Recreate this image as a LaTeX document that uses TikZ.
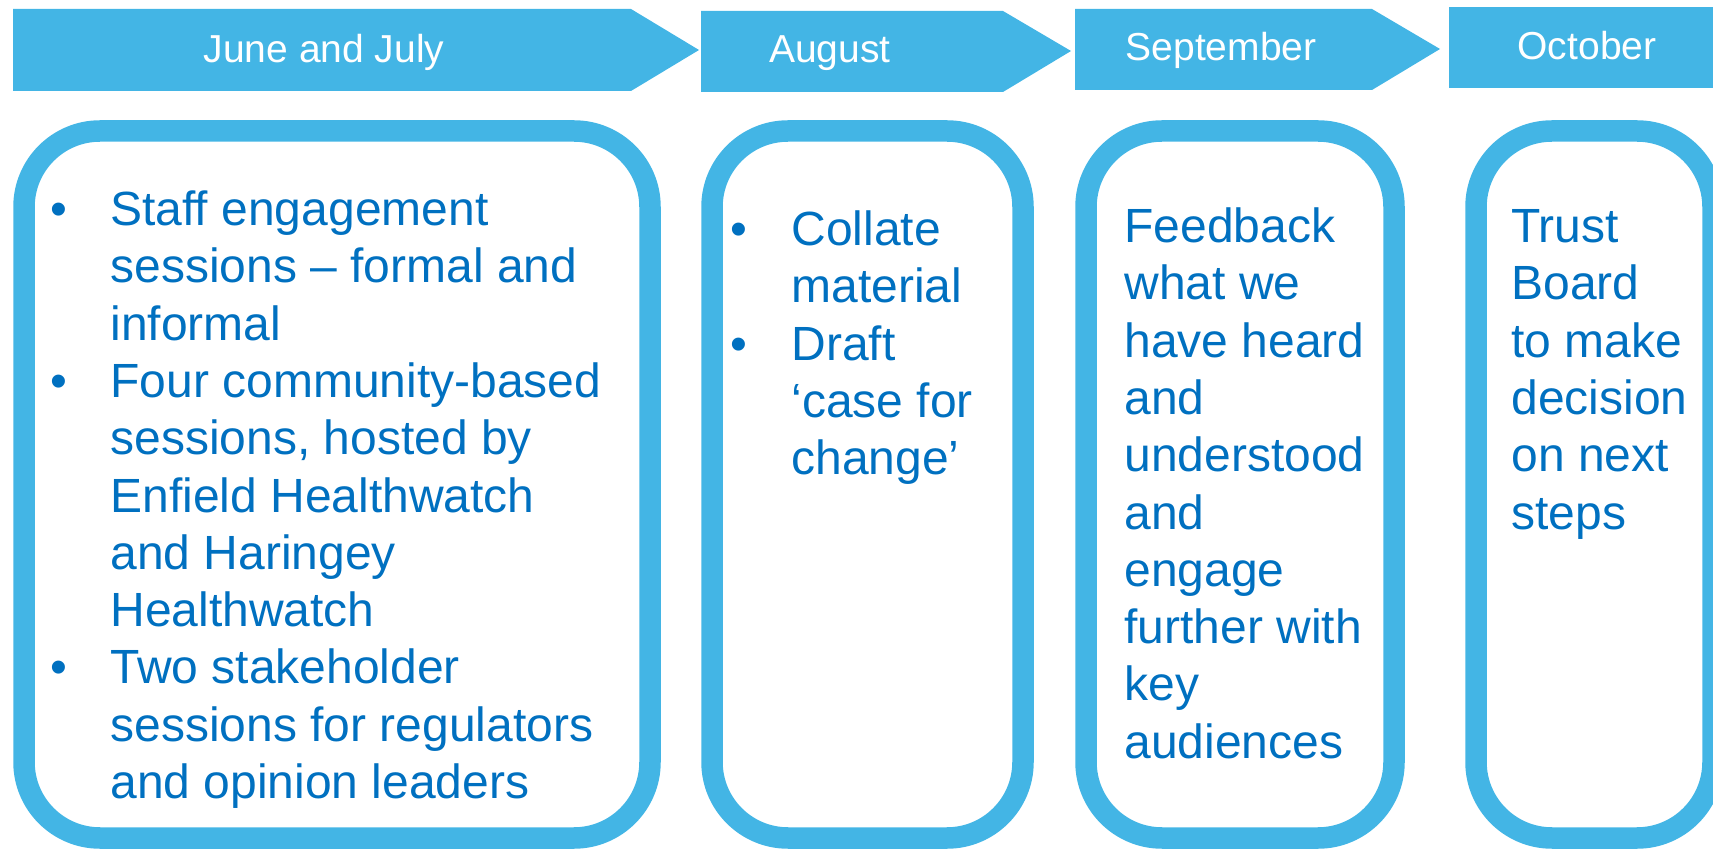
\documentclass[tikz,border=0pt]{standalone}
\usepackage{fontspec}
\setmainfont{Liberation Sans}
\usepackage{tikz}
\definecolor{skyblue}{HTML}{43B5E5}
\definecolor{textblue}{HTML}{0070C0}

\begin{document}
\begin{tikzpicture}[x=0.5pt, y=-0.5pt,
    month/.style={text=white, font=\fontsize{19.5}{23}\selectfont, anchor=base},
    frame/.style={draw=skyblue, line width=10.75pt, rounded corners=38pt},
    items/.style={text=textblue, font=\fontsize{24}{28.65}\selectfont, anchor=north west, inner sep=0pt}]
    \useasboundingbox (0, 0) rectangle (1713, 849);
    \clip (0, 0) rectangle (1713, 849);

    % Month arrows
    \fill[skyblue] (13, 9) -- (631, 9) -- (699, 50) -- (631, 91) -- (13, 91) -- cycle;
    \fill[skyblue] (701, 11) -- (1003, 11) -- (1071, 51) -- (1003, 92) -- (701, 92) -- cycle;
    \fill[skyblue] (1075, 9) -- (1372, 9) -- (1440, 49) -- (1372, 90) -- (1075, 90) -- cycle;
    \fill[skyblue] (1449, 7) rectangle (1713, 88);
    \node[month] (junejuly) at (324, 63) {June and July};
    \node[month] (august) at (830, 63) {August};
    \node[month] (september) at (1221, 61) {September};
    \node[month] (october) at (1587, 60) {October};

    % Frames
    \draw[frame] (24, 131) rectangle (650, 838);
    \draw[frame] (712, 131) rectangle (1023, 838);
    \draw[frame] (1086, 131) rectangle (1394, 838);
    \draw[frame] (1476, 131) rectangle (1713, 838);

    % Frame texts
    \node[items] (junejulytext) at (50, 185) {%
        \begin{tabular}{@{}p{30pt}@{}l@{}}
        • & Staff engagement \\
          & sessions – formal and \\
          & informal \\
        • & Four community-based \\
          & sessions, hosted by \\
          & Enfield Healthwatch \\
          & and Haringey \\
          & Healthwatch \\
        • & Two stakeholder \\
          & sessions for regulators \\
          & and opinion leaders
        \end{tabular}};
    \node[items] (augusttext) at (730, 205) {%
        \begin{tabular}{@{}p{30.5pt}@{}l@{}}
        • & Collate \\
          & material \\
        • & Draft \\
          & ‘case for \\
          & change’
        \end{tabular}};
    \node[items] (septembertext) at (1124, 202) {%
        \begin{tabular}{@{}l@{}}
        Feedback \\ what we \\ have heard \\ and \\ understood \\
        and \\ engage \\ further with \\ key \\ audiences
        \end{tabular}};
    \node[items] (octobertext) at (1511, 202) {%
        \begin{tabular}{@{}l@{}}
        Trust \\ Board \\ to make \\ decision \\ on next \\ steps
        \end{tabular}};
\end{tikzpicture}
\end{document}
